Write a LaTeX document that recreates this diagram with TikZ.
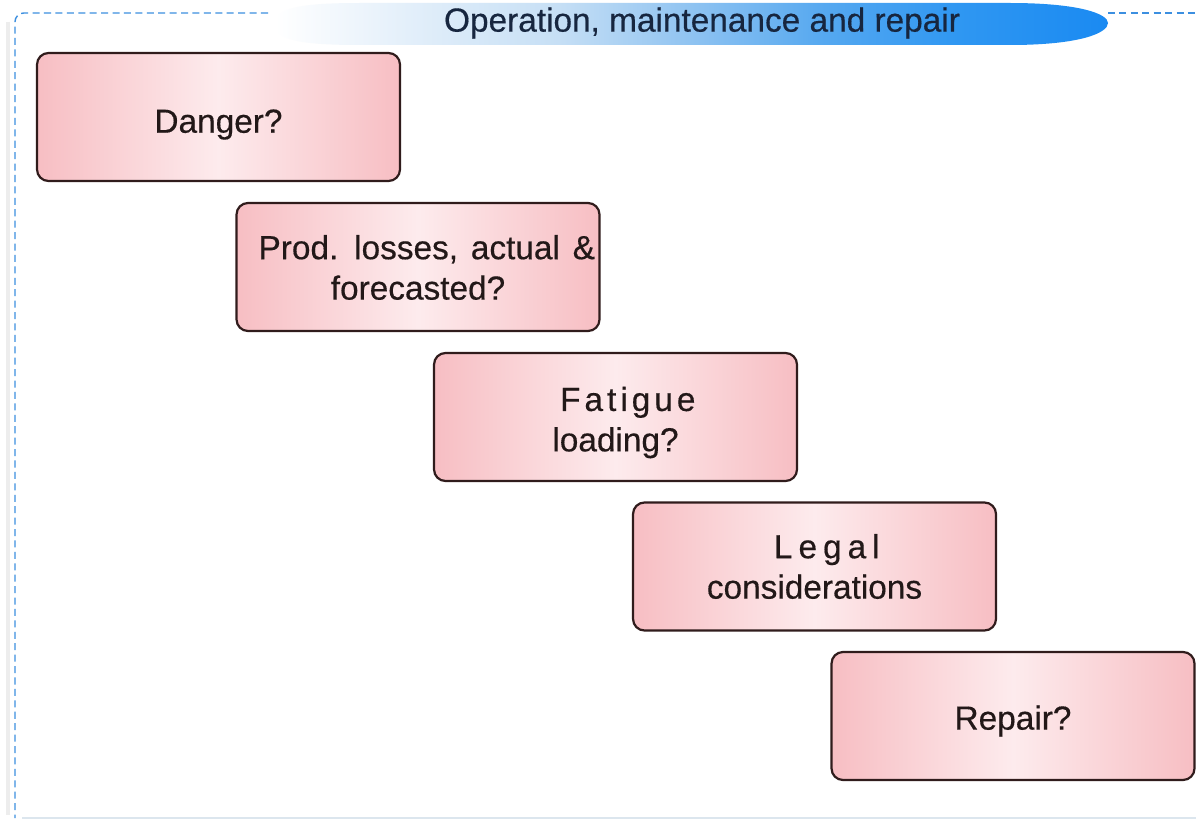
\documentclass[tikz,border=0pt]{standalone}
\usepackage{fontspec}
\setmainfont{Liberation Sans}[FakeBold=0.4]
\newfontfamily\boxfont{Liberation Sans}[FakeBold=0.4]

\definecolor{pinkedge}{HTML}{F7BEC3}
\definecolor{pinkmid}{HTML}{FDEBED}
\definecolor{boxline}{HTML}{301C1C}
\definecolor{boxtext}{HTML}{221818}
\definecolor{framedash}{HTML}{3C8FE0}
\definecolor{framefaint}{HTML}{DCE6EE}
\definecolor{bannertext}{HTML}{17263F}
\definecolor{bannerA}{HTML}{E3EFFA}
\definecolor{bannerB}{HTML}{C6DFF5}
\definecolor{bannerC}{HTML}{8FC3F1}
\definecolor{bannerD}{HTML}{55A8F0}
\definecolor{bannerE}{HTML}{2F97F2}
\definecolor{bannerF}{HTML}{1A8AF2}

% left-to-right fade of the title banner (25bp..75bp spans the path)
\pgfdeclarehorizontalshading{bannershade}{100bp}{%
  color(0bp)=(white); color(25bp)=(white); color(33bp)=(bannerA);
  color(42bp)=(bannerB); color(50bp)=(bannerC); color(58bp)=(bannerD);
  color(66bp)=(bannerE); color(75bp)=(bannerF); color(100bp)=(bannerF)}

\begin{document}
\begin{tikzpicture}[x=0.02cm, y=-0.02cm,
  qbox/.style={draw=boxline, line width=1.25pt, rounded corners=6.5pt,
    minimum width=7.26cm, minimum height=2.56cm, inner sep=0pt,
    left color=pinkedge, right color=pinkedge, middle color=pinkmid,
    text=boxtext, align=center, font=\boxfont\fontsize{19}{23}\selectfont},
  framestyle/.style={draw=framedash, line width=0.8pt, dash pattern=on 4pt off 2.5pt}]

  \useasboundingbox (0,0) rectangle (1196,821);
  \fill[white] (0,0) rectangle (1196,821);

  % outer frame
  \draw[gray!14, line width=2.5pt] (8,22) -- (8,815);
  \draw[framefaint, line width=1pt] (22,818) -- (1196,818);
  \draw[framestyle, rounded corners=5pt] (268,13) -- (15,13) -- (15,818);
  \draw[framestyle] (1108,13) -- (1196,13);

  % title banner
  \path[shading=bannershade]
    (275,24) .. controls (275,8) and (300,3) .. (360,3) -- (1010,3)
    .. controls (1080,3) and (1108,14) .. (1108,23)
    .. controls (1108,33) and (1080,45) .. (1010,45) -- (360,45)
    .. controls (300,45) and (275,40) .. (275,24) -- cycle;
  \node[text=bannertext, font=\boxfont\fontsize{19}{23}\selectfont] (title) at (702,23)
    {Operation, maintenance and repair};

  % question boxes (text height/depth set the baseline inside each box)
  \node[qbox, text height=17.9pt, text depth=0pt] (danger) at (218.5,117) {Danger?};
  \node[qbox, text height=37.1pt, text depth=0pt] (prod) at (418,267)
    {\hspace*{10pt}Prod.\hspace{2pt} losses,\hspace{2pt} actual\hspace{2pt} \&\\forecasted?};
  \node[qbox, text height=39.1pt, text depth=0pt] (fatigue) at (615.5,417)
    {\hspace*{14pt}{\addfontfeature{LetterSpace=12}Fatigue}\\loading?};
  \node[qbox] (legal) at (814.5,566.5)
    {\hspace*{14pt}{\addfontfeature{LetterSpace=18}Legal}\\considerations};
  \node[qbox, text height=15.5pt, text depth=0pt] (repair) at (1013,716) {Repair?};
\end{tikzpicture}
\end{document}
